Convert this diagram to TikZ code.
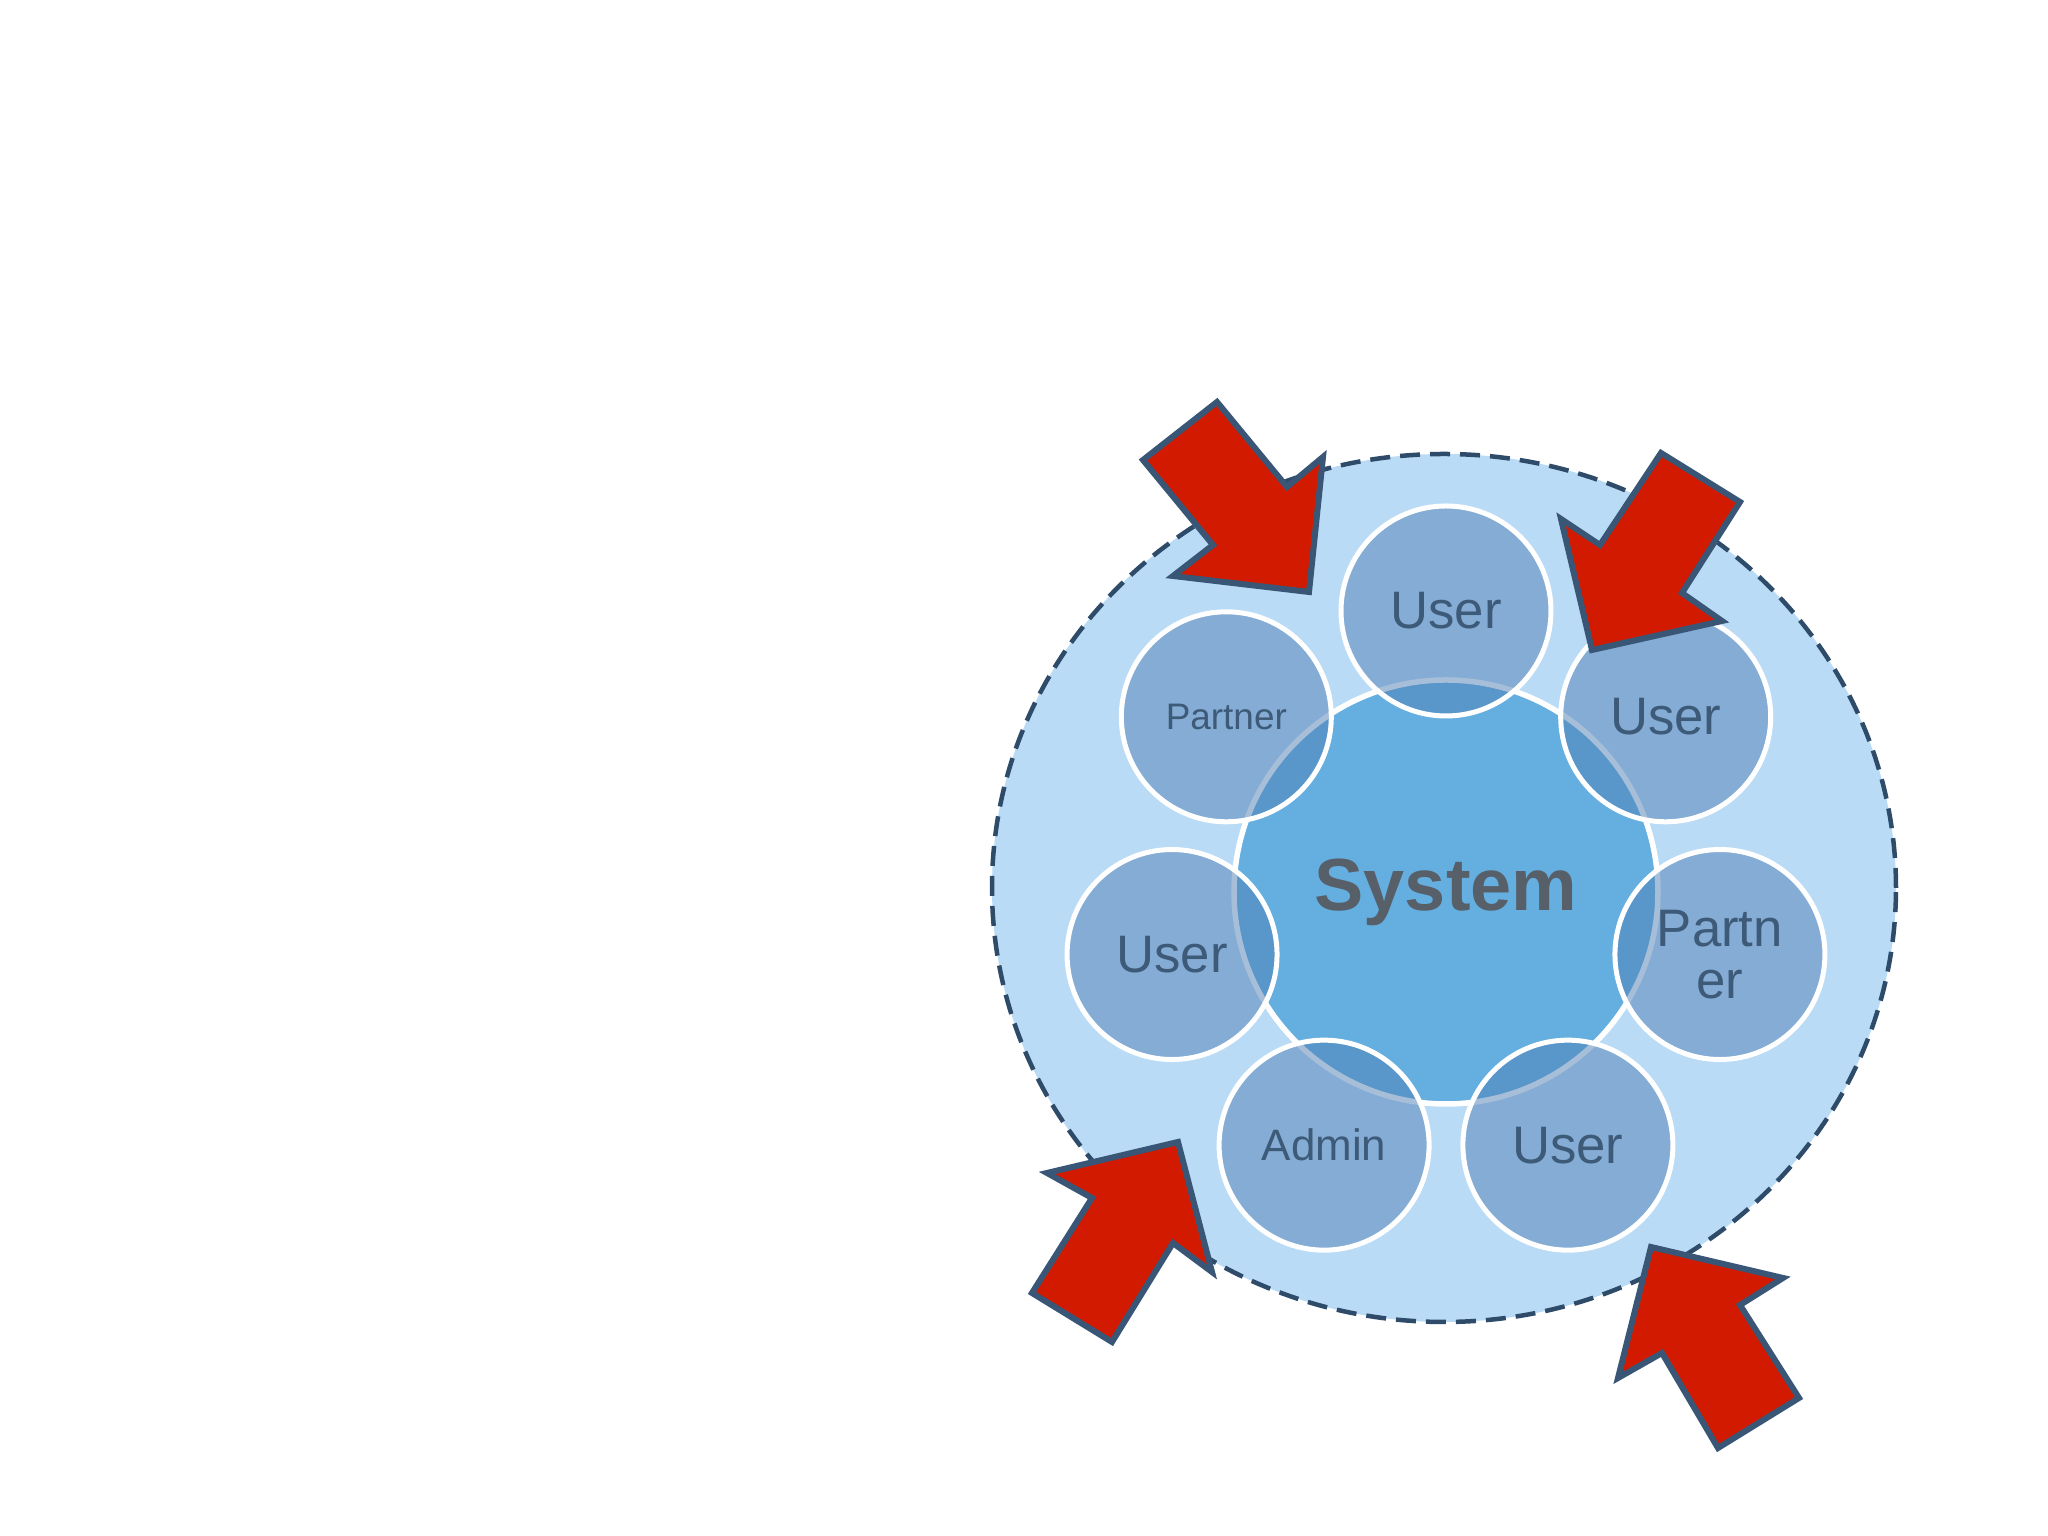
\documentclass[tikz,border=0pt]{standalone}
\usepackage{fontspec}
\setmainfont{Liberation Sans}
\usepackage{tikz}
\usetikzlibrary{positioning,calc}
\definecolor{ringFill}{HTML}{BADBF5}
\definecolor{ringLine}{HTML}{2F4B6A}
\definecolor{coreFill}{HTML}{64AEE0}
\definecolor{memberFill}{HTML}{507FB5}
\definecolor{memberText}{HTML}{3D5A78}
\definecolor{coreText}{HTML}{575F69}
\definecolor{arrowRed}{HTML}{D11A00}
\definecolor{arrowLine}{HTML}{3A5676}

\begin{document}
\begin{tikzpicture}[
  member/.style={circle,minimum size=2.1cm,inner sep=0pt,align=center,
    fill=memberFill,fill opacity=0.5,text opacity=1,
    draw=white,line width=0.05cm,text=memberText},
  pushArrow/.style={fill=arrowRed,draw=arrowLine,line width=0.06cm,line join=miter}]
  \fill[white] (0,0) rectangle (20.48,15.36);
  \useasboundingbox (0,0) rectangle (20.48,15.36);
  % boundary
  \draw[fill=ringFill,draw=ringLine,line width=0.045cm,dash pattern=on 0.2cm off 0.1cm]
    (14.44,6.48) ellipse [x radius=4.52,y radius=4.34];
  \node[circle,minimum size=4.24cm,fill=coreFill,draw=white,line width=0.055cm,
    text=coreText,font=\bfseries\fontsize{21}{21}\selectfont] (sys) at (14.46,6.44) {System};
  % members round the core
  \foreach \a/\t/\n/\s in {90/User/userN/15, 141.43/Partner/partnerNW/10.5,
      192.86/User/userW/15, 244.29/Admin/adminSW/12.5, 295.71/User/userSE/15,
      347.14/{Partn\\er}/partnerE/15, 38.57/User/userNE/15}{
    \node[member,font=\fontsize{\s}{\s}\selectfont] (\n) at ($(sys)+(\a:2.81)$) {\t};
  }
  % incoming arrows
  \draw[pushArrow] (12.17,11.34) -- (11.43,10.76) -- (12.13,9.91) -- (11.73,9.60)
    -- (13.09,9.44) -- (13.23,10.79) -- (12.87,10.49) -- cycle;
  \draw[pushArrow] (16.61,10.83) -- (17.40,10.34) -- (16.82,9.43) -- (17.22,9.15)
    -- (15.92,8.86) -- (15.61,10.17) -- (16.00,9.91) -- cycle;
  \draw[pushArrow] (11.78,3.94) -- (12.12,2.64) -- (11.73,2.93) -- (11.12,1.94)
    -- (10.32,2.43) -- (10.92,3.38) -- (10.47,3.63) -- cycle;
  \draw[pushArrow] (16.51,2.89) -- (17.83,2.58) -- (17.40,2.31) -- (17.99,1.38)
    -- (17.18,0.88) -- (16.62,1.83) -- (16.18,1.58) -- cycle;
\end{tikzpicture}
\end{document}
